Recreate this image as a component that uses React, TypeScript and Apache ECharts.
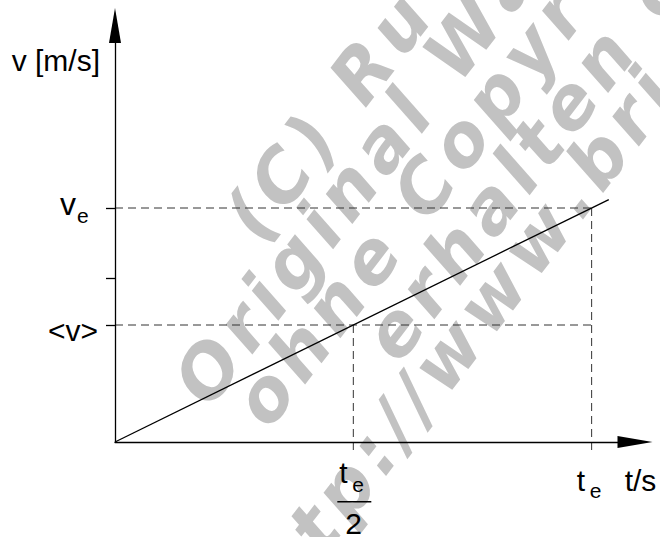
import React, { useEffect, useRef } from "react";
import * as echarts from "echarts";

// ---- data (time in units of t_e/10, velocity in units of v_e/10) ----
const T_END = 10; // t_e
const T_HALF = 5; // t_e / 2
const V_END = 10; // v_e
const V_MEAN = 5; // <v>
const X_MAX = 10.91;
const Y_MAX = 17.8;
const Y_TICKS = [5, 7, 10];
const LINE_T = [0, 10.36];
const LINE_V = [0, 10.36];
const DASH_DROP = -0.43;

const Y_AXIS_NAME = "v [m/s]";
const X_AXIS_NAME = "t/s";
const V_MEAN_LABEL = "<v>";
const WATERMARK_LINES = ["(C) Ru", "Original Wa", "ohne Copyr", "erhalten g", "http://www.bri"];

// ---- layout / style ----
const FONT = "'Liberation Sans', Arial, Helvetica, sans-serif";
const WM_FAMILY = "'DejaVu Sans'";
const WM_FONT_SIZE = 72;
const WM_ANGLE = (52.5 * Math.PI) / 180;
const WM_SPACING = 7;
const WM_START = [-36, -198, -178, -47, -345];
const WM_OFFSET = [331, 391, 451, 514, 571];

function txt(text: string, x: number, baseline: number, size: number, align: string = "left") {
  return {
    type: "text",
    x,
    y: baseline - 0.3465 * size,
    silent: true,
    z: 20,
    style: {
      text,
      fill: "#000",
      fontSize: size,
      fontFamily: FONT,
      textAlign: align,
      textVerticalAlign: "middle",
      verticalAlign: "middle",
    },
  };
}

function watermark() {
  const els: any[] = [];
  const ctx = document.createElement("canvas").getContext("2d");
  if (!ctx) return els;
  ctx.font = `italic bold ${WM_FONT_SIZE}px ${WM_FAMILY}`;
  const c = Math.cos(WM_ANGLE);
  const s = Math.sin(WM_ANGLE);
  WATERMARK_LINES.forEach((line, li) => {
    let p = WM_START[li];
    const q = WM_OFFSET[li];
    for (const ch of line) {
      const w = ctx.measureText(ch).width;
      if (ch !== " ") {
        els.push({
          type: "text",
          x: p * c + q * s,
          y: -p * s + q * c,
          rotation: WM_ANGLE,
          silent: true,
          z: -10,
          style: {
            text: ch,
            fontSize: WM_FONT_SIZE,
            fontFamily: WM_FAMILY,
            fontWeight: "bold",
            fontStyle: "italic",
            fill: "#c2c2c2",
            textAlign: "left",
            textVerticalAlign: "middle",
            verticalAlign: "middle",
          },
        });
      }
      p += w + WM_SPACING;
    }
  });
  return els;
}

export default function App() {
  const ref = useRef<HTMLDivElement>(null);
  useEffect(() => {
    if (!ref.current) return;
    const chart = echarts.init(ref.current, null, { renderer: "svg" });
    const dash = { color: "#333", width: 1, type: [8, 5] };
    const axisLine = {
      show: true,
      onZero: false,
      symbol: ["none", "triangle"],
      symbolSize: [12, 35],
      lineStyle: { color: "#000", width: 1.3 },
    };
    chart.setOption({
      animation: false,
      backgroundColor: "#fff",
      grid: { left: 115, right: 25, top: 25.5, bottom: 95, containLabel: false, outerBoundsMode: "none" },
      xAxis: {
        type: "value",
        min: 0,
        max: X_MAX,
        axisLine,
        axisTick: { show: false },
        axisLabel: { show: false },
        splitLine: { show: false },
        z: 5,
      },
      yAxis: {
        type: "value",
        min: 0,
        max: Y_MAX,
        axisLine,
        axisTick: {
          show: true,
          customValues: Y_TICKS,
          length: 9,
          inside: false,
          lineStyle: { color: "#000", width: 1.3 },
        },
        axisLabel: { show: false },
        splitLine: { show: false },
        z: 5,
      },
      series: [
        { type: "line", data: [[0, V_END], [T_END, V_END]], symbol: "none", lineStyle: dash, silent: true, z: 1 },
        { type: "line", data: [[0, V_MEAN], [T_END, V_MEAN]], symbol: "none", lineStyle: dash, silent: true, z: 1 },
        { type: "line", data: [[T_HALF, V_MEAN], [T_HALF, DASH_DROP]], symbol: "none", lineStyle: dash, silent: true, clip: false, z: 1 },
        { type: "line", data: [[T_END, V_END], [T_END, DASH_DROP]], symbol: "none", lineStyle: dash, silent: true, clip: false, z: 1 },
        {
          type: "line",
          data: LINE_T.map((t, i) => [t, LINE_V[i]]),
          symbol: "none",
          lineStyle: { color: "#000", width: 1.3 },
          silent: true,
          z: 3,
        },
      ],
    });

    const px = (x: number, y: number) => chart.convertToPixel({ gridIndex: 0 }, [x, y]) as number[];
    const [x0, y0] = px(0, 0);
    const [xTe] = px(T_END, 0);
    const [xHalf] = px(T_HALF, 0);
    const [, yVe] = px(0, V_END);
    const [, yMean] = px(0, V_MEAN);
    const [, yTop] = px(0, Y_MAX);

    const graphics: any[] = [
      ...watermark(),
      txt(Y_AXIS_NAME, x0 - 15, yTop + 45, 30, "right"),
      txt("v", x0 - 55, yVe + 7, 32),
      txt("e", x0 - 38, yVe + 15, 21),
      txt(V_MEAN_LABEL, x0 - 67, yMean + 16, 30),
      txt("t", xTe - 15, y0 + 49, 30),
      txt("e", xTe - 2, y0 + 56, 21),
      txt(X_AXIS_NAME, xTe + 33, y0 + 49, 30),
      txt("t", xHalf - 14, y0 + 41, 30),
      txt("e", xHalf - 1, y0 + 50, 21),
      {
        type: "rect",
        silent: true,
        z: 20,
        shape: { x: xHalf - 16, y: y0 + 59, width: 34, height: 1.5 },
        style: { fill: "#000" },
      },
      txt("2", xHalf - 8, y0 + 92, 30),
    ];
    chart.setOption({ graphic: { elements: graphics } });

    return () => chart.dispose();
  }, []);

  return (
    <div
      ref={ref}
      style={{ position: "fixed", left: 0, top: 0, width: 660, height: 537, background: "#fff" }}
    />
  );
}
